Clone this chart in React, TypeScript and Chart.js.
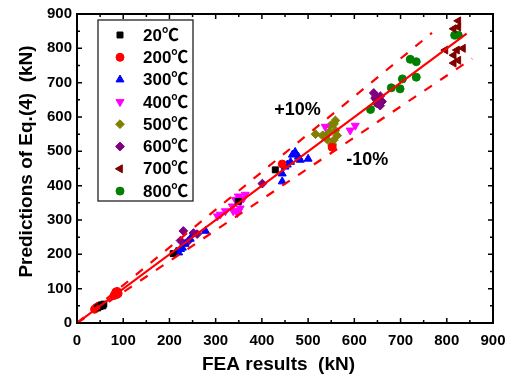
import React, { useEffect, useRef } from 'react';
import { Chart, registerables } from 'chart.js';
import { drawPoint } from 'chart.js/helpers';

Chart.register(...registerables);

const FONT = "'Liberation Sans', Arial, 'Noto Sans CJK SC', sans-serif";

const seriesLabels = ['20℃', '200℃', '300℃', '400℃', '500℃', '600℃', '700℃', '800℃'];
const seriesColors = ['#000000', '#FF0000', '#0000FF', '#FF00FF', '#808000', '#800080', '#800000', '#008000'];
const seriesStyles = ['rect', 'circle', 'triangle', 'triangle', 'rectRot', 'rectRot', 'triangle', 'circle'];
const seriesRotations = [0, 0, 0, 180, 0, 0, -90, 0];
const seriesRadius = [4.2, 4, 4.6, 4.6, 4.4, 4.4, 4.6, 4];

const s20 = [
  { x: 45, y: 44 }, { x: 50, y: 48 }, { x: 53, y: 52 }, { x: 56, y: 50 }, { x: 58, y: 55 },
  { x: 208, y: 202 }, { x: 349, y: 354 }, { x: 429, y: 446 },
];
const s200 = [
  { x: 38, y: 40 }, { x: 42, y: 45 }, { x: 46, y: 48 }, { x: 48, y: 50 },
  { x: 80, y: 80 }, { x: 83, y: 85 }, { x: 85, y: 88 }, { x: 87, y: 92 }, { x: 89, y: 86 },
  { x: 84, y: 90 }, { x: 86, y: 83 }, { x: 444, y: 463 }, { x: 552, y: 512 },
];
const s300 = [
  { x: 215, y: 208 }, { x: 220, y: 205 }, { x: 224, y: 215 }, { x: 228, y: 219 }, { x: 234, y: 230 },
  { x: 245, y: 245 }, { x: 278, y: 268 }, { x: 444, y: 412 }, { x: 444, y: 435 }, { x: 455, y: 461 },
  { x: 462, y: 469 }, { x: 472, y: 498 }, { x: 479, y: 484 }, { x: 483, y: 475 }, { x: 500, y: 478 },
  { x: 466, y: 490 }, { x: 450, y: 455 },
];
const s400 = [
  { x: 304, y: 311 }, { x: 310, y: 316 }, { x: 321, y: 326 }, { x: 336, y: 340 }, { x: 338, y: 326 },
  { x: 347, y: 320 }, { x: 349, y: 326 }, { x: 343, y: 359 }, { x: 349, y: 369 }, { x: 353, y: 354 },
  { x: 353, y: 334 }, { x: 360, y: 363 }, { x: 364, y: 374 }, { x: 447, y: 455 },
  { x: 537, y: 572 }, { x: 591, y: 561 }, { x: 602, y: 575 },
];
const s500 = [
  { x: 516, y: 550 }, { x: 531, y: 546 }, { x: 533, y: 546 }, { x: 541, y: 535 }, { x: 548, y: 575 },
  { x: 552, y: 518 }, { x: 552, y: 521 }, { x: 555, y: 532 }, { x: 559, y: 561 }, { x: 559, y: 590 },
  { x: 563, y: 546 }, { x: 545, y: 555 }, { x: 556, y: 580 },
];
const s600 = [
  { x: 224, y: 240 }, { x: 230, y: 268 }, { x: 241, y: 239 }, { x: 252, y: 262 }, { x: 260, y: 259 },
  { x: 401, y: 406 }, { x: 642, y: 670 }, { x: 645, y: 655 }, { x: 648, y: 641 }, { x: 652, y: 647 },
  { x: 656, y: 633 }, { x: 656, y: 661 }, { x: 660, y: 645 },
];
const s700 = [
  { x: 825, y: 880 }, { x: 825, y: 862 }, { x: 815, y: 857 }, { x: 797, y: 795 }, { x: 822, y: 795 },
  { x: 835, y: 800 }, { x: 815, y: 780 }, { x: 815, y: 757 }, { x: 825, y: 765 },
];
const s800 = [
  { x: 635, y: 622 }, { x: 646, y: 656 }, { x: 650, y: 640 }, { x: 680, y: 685 }, { x: 699, y: 682 },
  { x: 704, y: 711 }, { x: 721, y: 768 }, { x: 734, y: 761 }, { x: 734, y: 716 },
  { x: 817, y: 838 }, { x: 825, y: 838 },
];
const seriesData = [s20, s200, s300, s400, s500, s600, s700, s800];

const lineEqual = [{ x: 0, y: 0 }, { x: 843, y: 843 }];
const linePlus10 = [{ x: 0, y: 0 }, { x: 768, y: 845 }];
const lineMinus10 = [{ x: 0, y: 0 }, { x: 855, y: 770 }];

const annotations = [
  { text: '+10%', x: 477, y: 619 },
  { text: '-10%', x: 628, y: 475 },
];

const xTitle = 'FEA results  (kN)';
const yTitle = 'Predictions of Eq.(4)  (kN)';

const framePlugin = {
  id: 'frameTicks',
  afterDatasetsDraw(chart: any) {
    const { ctx, chartArea, scales } = chart;
    const { left, right, top, bottom } = chartArea;
    const xs = scales.x;
    const ys = scales.y;
    ctx.save();
    ctx.strokeStyle = '#000';
    ctx.lineWidth = 1.5;
    ctx.beginPath();
    for (let v = 0; v <= 900; v += 50) {
      const len = v % 100 === 0 ? 5 : 3;
      const px = xs.getPixelForValue(v);
      ctx.moveTo(px, bottom); ctx.lineTo(px, bottom - len);
      ctx.moveTo(px, top); ctx.lineTo(px, top + len);
      const py = ys.getPixelForValue(v);
      ctx.moveTo(left, py); ctx.lineTo(left + len, py);
      ctx.moveTo(right, py); ctx.lineTo(right - len, py);
    }
    ctx.stroke();
    ctx.lineWidth = 2;
    ctx.strokeRect(left, top, right - left, bottom - top);
    ctx.restore();
  },
  afterDraw(chart: any) {
    const { ctx, scales } = chart;
    const xs = scales.x;
    const ys = scales.y;
    ctx.save();
    // annotations
    ctx.fillStyle = '#000';
    ctx.font = `bold 18px ${FONT}`;
    ctx.textAlign = 'center';
    ctx.textBaseline = 'middle';
    for (const a of annotations) {
      ctx.fillText(a.text, xs.getPixelForValue(a.x), ys.getPixelForValue(a.y));
    }
    // axis titles
    ctx.font = `bold 19px ${FONT}`;
    ctx.fillText(xTitle, 278.5, 365);
    ctx.save();
    ctx.translate(27, 161.5);
    ctx.rotate(-Math.PI / 2);
    ctx.fillText(yTitle, 0, 0);
    ctx.restore();
    // legend
    ctx.fillStyle = '#fff';
    ctx.fillRect(98, 20, 95, 181);
    ctx.strokeStyle = '#222';
    ctx.lineWidth = 1.3;
    ctx.strokeRect(98, 20, 95, 181);
    ctx.font = `bold 17px ${FONT}`;
    ctx.textAlign = 'left';
    ctx.textBaseline = 'middle';
    for (let i = 0; i < seriesLabels.length; i++) {
      const cy = 35 + i * 22.3;
      ctx.fillStyle = seriesColors[i];
      ctx.strokeStyle = seriesColors[i];
      ctx.lineWidth = 1;
      drawPoint(ctx, {
        pointStyle: seriesStyles[i] as any,
        rotation: seriesRotations[i],
        radius: seriesRadius[i],
        borderWidth: 1,
      } as any, 120, cy);
      ctx.fillStyle = '#000';
      ctx.fillText(seriesLabels[i], 143, cy + 1);
    }
    ctx.restore();
  },
};

export default function App() {
  const ref = useRef<HTMLCanvasElement | null>(null);
  useEffect(() => {
    if (!ref.current) return;
    Chart.defaults.font.family = FONT;
    const pointSets = seriesData.map((d, i) => ({
      type: 'scatter' as const,
      label: seriesLabels[i],
      data: d,
      showLine: false,
      pointStyle: seriesStyles[i],
      rotation: seriesRotations[i],
      pointRadius: seriesRadius[i],
      pointBackgroundColor: seriesColors[i],
      pointBorderColor: seriesColors[i],
      pointBorderWidth: 1,
      order: 1,
    }));
    const lineSets = [
      { data: lineEqual, dash: [] as number[] },
      { data: linePlus10, dash: [9, 10] },
      { data: lineMinus10, dash: [9, 10] },
    ].map((l, i) => ({
      type: 'line' as const,
      label: 'line' + i,
      data: l.data,
      borderColor: '#FF0000',
      borderWidth: 2.2,
      borderDash: l.dash,
      pointRadius: 0,
      fill: false,
      order: 0,
    }));
    const chart = new Chart(ref.current, {
      type: 'scatter',
      data: { datasets: [...lineSets, ...pointSets] as any },
      options: {
        animation: false,
        responsive: false,
        devicePixelRatio: 1,
        layout: { padding: { top: 10, right: 24, left: 0, bottom: 0 } },
        plugins: { legend: { display: false }, tooltip: { enabled: false } },
        scales: {
          x: {
            type: 'linear',
            min: 0,
            max: 900,
            grid: { display: false, drawTicks: false },
            border: { display: false },
            ticks: {
              stepSize: 100,
              autoSkip: false,
              maxRotation: 0,
              padding: 9,
              color: '#000',
              font: { size: 15, weight: 'bold', family: FONT },
            },
            afterFit: (s: any) => { s.height = 60; },
          },
          y: {
            type: 'linear',
            min: 0,
            max: 900,
            grid: { display: false, drawTicks: false },
            border: { display: false },
            ticks: {
              stepSize: 100,
              autoSkip: false,
              padding: 5,
              color: '#000',
              font: { size: 15, weight: 'bold', family: FONT },
            },
            afterFit: (s: any) => { s.width = 77; },
          },
        },
      } as any,
      plugins: [framePlugin],
    });
    return () => chart.destroy();
  }, []);
  return (
    <div style={{ position: 'absolute', left: 0, top: 0, width: 517, height: 383, background: '#fff' }}>
      <canvas ref={ref} width={517} height={383} />
    </div>
  );
}
